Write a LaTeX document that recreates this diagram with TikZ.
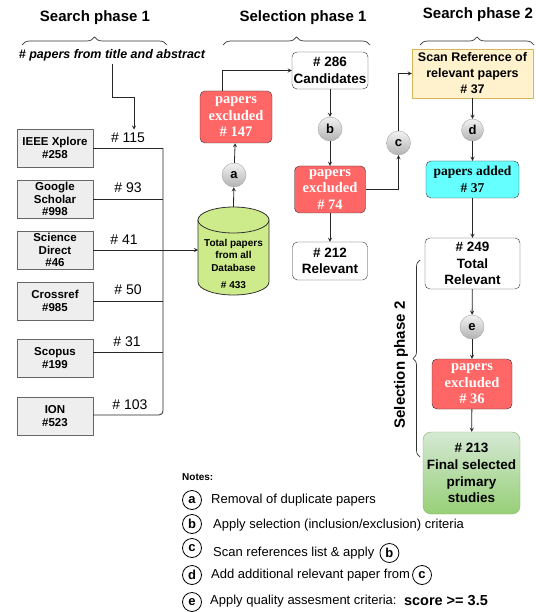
\documentclass[tikz,border=0pt]{standalone}
\usepackage{fontspec}
\setmainfont{Liberation Sans}
\newfontfamily\exfont{Liberation Serif}
\usetikzlibrary{positioning,decorations.pathreplacing}
\definecolor{exred}{HTML}{FF6666}
\definecolor{dbgray}{HTML}{EEEEEE}
\definecolor{dbgreen}{HTML}{CDEB8B}
\definecolor{scanfill}{HTML}{FFF2CC}
\definecolor{scandraw}{HTML}{D6B656}
\definecolor{addcyan}{HTML}{66FFFF}
\definecolor{finaltop}{HTML}{D5E8D4}
\definecolor{finalbot}{HTML}{97D077}
\definecolor{finaldraw}{HTML}{82B366}
\tikzset{
  dbbox/.style={draw=gray!80!black, fill=dbgray, minimum width=76pt, minimum height=38pt,
    inner sep=0pt, align=center, font=\bfseries\fontsize{11.5}{12.5}\selectfont},
  exbox/.style={draw=black!80, fill=exred, rounded corners=5pt, align=center, inner sep=0pt,
    text=white, font=\exfont\bfseries\fontsize{14.5}{16.5}\selectfont},
  whitebox/.style={draw=black!80, fill=white, rounded corners=5pt, align=center, inner sep=0pt,
    font=\bfseries\fontsize{13.5}{16.5}\selectfont},
  stepcirc/.style={circle, draw=gray!70, top color=gray!10, bottom color=gray!60,
    minimum size=24pt, inner sep=0pt, font=\bfseries\fontsize{13}{13}\selectfont},
  notecirc/.style={circle, draw, thick, minimum size=19pt, inner sep=0pt,
    font=\bfseries\fontsize{13}{13}\selectfont},
  phase/.style={font=\bfseries\fontsize{15}{15}\selectfont},
  count/.style={font=\fontsize{14}{14}\selectfont},
  note/.style={anchor=west, inner sep=0pt, font=\fontsize{13}{13}\selectfont},
  arr/.style={-stealth, line width=0.8pt, black!85},
  wire/.style={line width=0.8pt, black!85},
  phasebrace/.style={decorate, decoration={brace, amplitude=8pt}, line width=0.7pt, black!80}
}

\begin{document}
\begin{tikzpicture}[x=1pt,y=-1pt]
    \useasboundingbox (0,0) rectangle (535,612);
    % phase titles and braces
    \node[phase] (search1) at (95,18) {Search phase 1};
    \node[phase] (select1) at (303,18) {Selection phase 1};
    \node[phase] (search2) at (478,15) {Search phase 2};
    \draw[phasebrace] (22,45) -- (167,45);
    \draw[phasebrace] (223,45) -- (370,45);
    \draw[phasebrace] (420,45) -- (534,45);
    \node[font=\bfseries\itshape\fontsize{12.5}{13}\selectfont] (query) at (112,55) {\# papers from title and abstract};

    % databases
    \node[dbbox] (ieee) at (55,148) {IEEE Xplore\\\#258};
    \node[dbbox] (google) at (55,199) {Google\\Scholar\\\#998};
    \node[dbbox] (science) at (55,250) {Science\\Direct\\\#46};
    \node[dbbox] (crossref) at (55,301) {Crossref\\\#985};
    \node[dbbox] (scopus) at (55,358) {Scopus\\\#199};
    \node[dbbox] (ion) at (55,416) {ION\\\#523};
    \node[count] (n115) at (128,138) {\# 115};
    \node[count] (n93) at (128,188) {\# 93};
    \node[count] (n41) at (124,240) {\# 41};
    \node[count] (n50) at (128,290) {\# 50};
    \node[count] (n31) at (127,342) {\# 31};
    \node[count] (n103) at (130,405) {\# 103};
    \coordinate (busT) at (163,148);
    \coordinate (busB) at (163,415);
    \coordinate (qbend) at (134,97);
    \draw[arr] (query.south) |- (qbend) -- (qbend |- n115.north);
    \draw[wire] (ieee.east) -- (busT);
    \draw[wire, rounded corners=4pt] (busT) -- (busB) -- (busB -| ion.east);
    \draw[wire] (google.east) -- (google.east -| busT);
    \draw[wire] (crossref.east) -- (crossref.east -| busT);
    \draw[wire] ([yshift=6pt]scopus.east) -- ++(70,0);

    % total database (cylinder)
    \draw[line width=0.8pt, black!80, fill=dbgreen] (198,220) -- (198,282)
      arc[start angle=180, end angle=0, x radius=35.5, y radius=13] -- (269,220) -- cycle;
    \draw[line width=0.8pt, black!80, fill=dbgreen] (233.5,220) ellipse [x radius=35.5, y radius=13];
    \coordinate (dbtop) at (233.5,207);
    \coordinate (dbleft) at (198,250);
    \node[align=center, font=\bfseries\fontsize{10}{12.5}\selectfont] (dbtext) at (233.5,264)
      {Total papers\\from all\\Database\\[5pt]\# 433};
    \draw[arr] (science.east) -- (dbleft);

    % selection phase 1
    \node[stepcirc] (ca) at (234,175) {a};
    \node[exbox, minimum width=72pt, minimum height=52pt] (ex1) at (236,117) {papers\\excluded\\\# 147};
    \node[whitebox, minimum width=76pt, minimum height=37pt] (cand) at (330,70.5) {\# 286\\Candidates};
    \node[stepcirc] (cb) at (330,129) {b};
    \node[exbox, minimum width=71pt, minimum height=47pt] (ex2) at (330,189.5) {papers\\excluded\\\# 74};
    \node[whitebox, minimum width=75pt, minimum height=38pt] (rel1) at (330,261) {\# 212\\Relevant};
    \draw[arr] (dbtop) -- (ca);
    \draw[arr] (ca) -- (ex1);
    \draw[arr] ([xshift=-14pt]ex1.north) |- (cand.west);
    \draw[arr] (cand) -- (cb);
    \draw[arr] (cb) -- (ex2);
    \draw[arr] (ex2) -- (rel1);

    % search phase 2
    \node[stepcirc] (cc) at (398.5,143) {c};
    \node[draw=scandraw, fill=scanfill, minimum width=121pt, minimum height=49pt, inner sep=0pt,
      align=center, font=\bfseries\fontsize{12.5}{16}\selectfont] (scan) at (472.5,73.5)
      {Scan Reference of\\relevant papers\\\# 37};
    \node[stepcirc, minimum size=22pt] (cd) at (472.5,130) {d};
    \node[whitebox, fill=addcyan, minimum width=93pt, minimum height=37pt,
      font=\exfont\bfseries\fontsize{13.5}{17}\selectfont] (added) at (472.5,179.5) {papers added\\\# 37};
    \draw[arr] (ex2.east) -| (cc);
    \draw[arr] (cc) |- (scan.west);
    \draw[arr] (scan) -- (cd);
    \draw[arr] (cd) -- (added);

    % selection phase 2
    \node[whitebox, minimum width=95pt, minimum height=51pt] (total) at (472.5,263.5) {\# 249\\Total\\Relevant};
    \node[stepcirc] (ce) at (472,327) {e};
    \node[exbox, minimum width=80pt, minimum height=50pt] (ex3) at (472,384) {papers\\excluded\\\# 36};
    \node[draw=finaldraw, top color=finaltop, bottom color=finalbot, rounded corners=8pt,
      minimum width=97pt, minimum height=82pt, inner sep=0pt, align=center,
      font=\bfseries\fontsize{13.5}{16.7}\selectfont] (final) at (471.5,473)
      {\# 213\\Final selected\\primary\\studies};
    \draw[arr] (added) -- (total);
    \draw[arr] (total) -- (ce);
    \draw[arr] (ce) -- (ex3);
    \draw[arr] (ex3) -- (final);
    \draw[phasebrace, decoration={amplitude=7pt}] (420,457) -- (420,260);
    \node[phase, rotate=90] (select2) at (401,365) {Selection phase 2};

    % notes
    \node[anchor=west, inner sep=0pt, font=\bfseries\fontsize{10}{10}\selectfont] (notes) at (182,477) {Notes:};
    \node[notecirc] (na) at (192,500) {a};
    \node[note] (ta) at (211,500) {Removal of duplicate papers};
    \node[notecirc] (nb) at (192,524) {b};
    \node[note] (tb) at (213,525) {Apply selection (inclusion/exclusion) criteria};
    \node[notecirc] (nc) at (192,548) {c};
    \node[note] (tc) at (213,553) {Scan references list \& apply};
    \node[notecirc, right=5pt of tc] (ncb) {b};
    \node[notecirc] (nd) at (192,575) {d};
    \node[note] (td) at (211,575) {Add additional relevant paper from};
    \node[notecirc, right=2pt of td] (ndc) {c};
    \node[notecirc] (ne) at (192,602) {e};
    \node[note] (te) at (210,601) {Apply quality assesment criteria:};
    \node[note, right=7pt of te, font=\bfseries\fontsize{14.5}{14.5}\selectfont] (score) {score >= 3.5};
\end{tikzpicture}
\end{document}
